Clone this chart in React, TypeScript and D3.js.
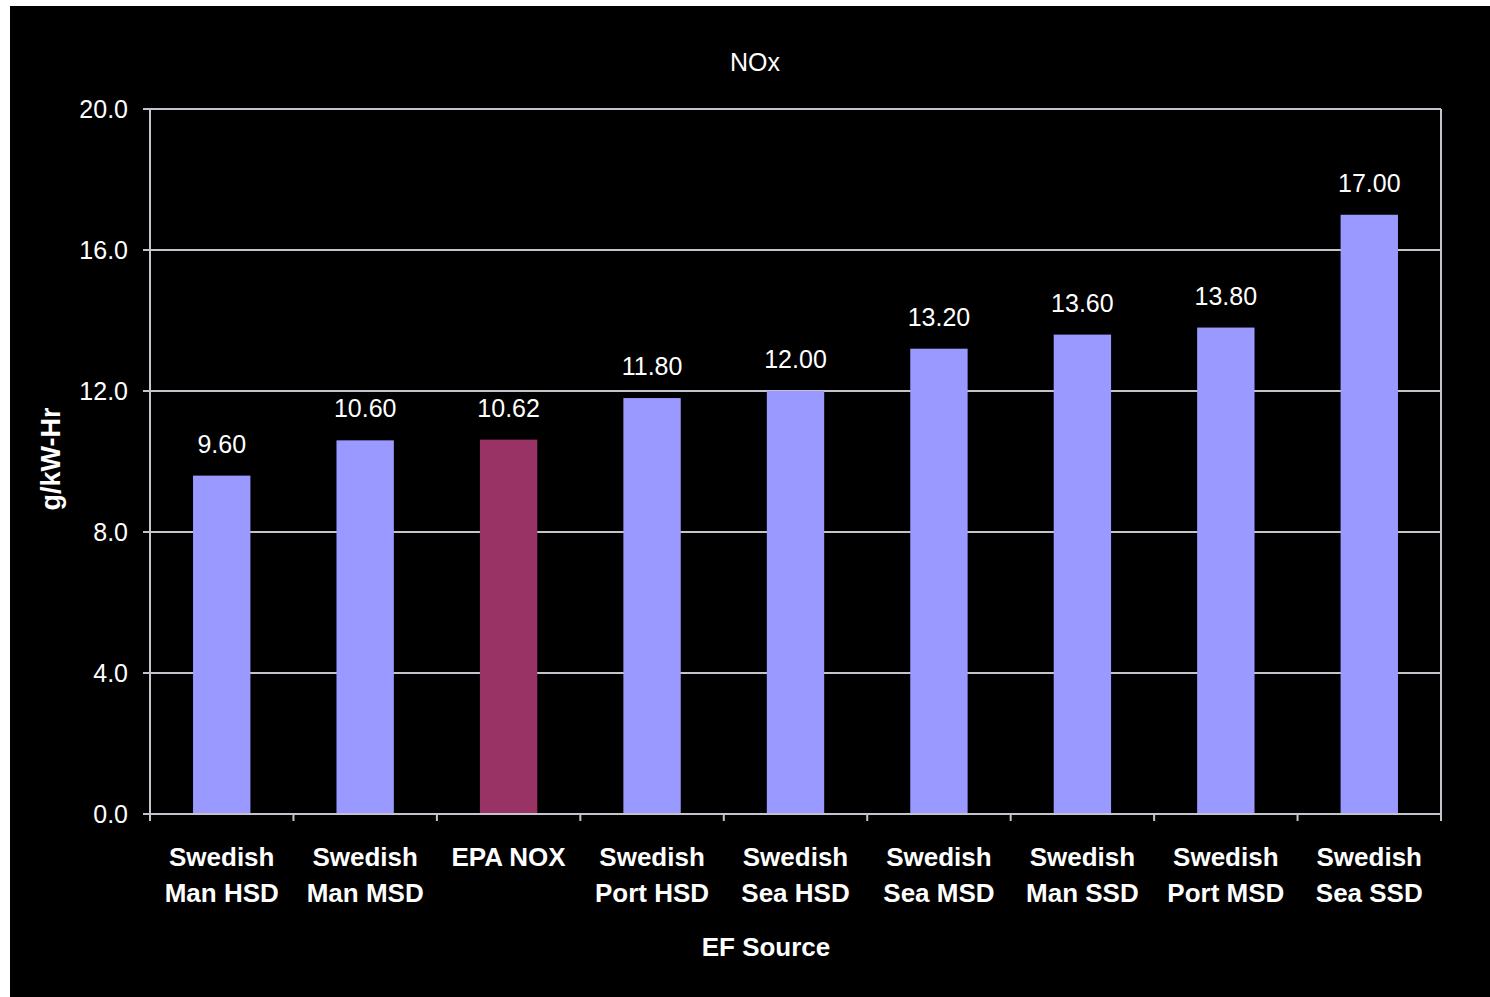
import * as d3 from "d3";

const categories = [
  ["Swedish", "Man HSD"],
  ["Swedish", "Man MSD"],
  ["EPA NOX"],
  ["Swedish", "Port HSD"],
  ["Swedish", "Sea HSD"],
  ["Swedish", "Sea MSD"],
  ["Swedish", "Man SSD"],
  ["Swedish", "Port MSD"],
  ["Swedish", "Sea SSD"],
];
const values = [9.6, 10.6, 10.62, 11.8, 12.0, 13.2, 13.6, 13.8, 17.0];
const highlight = [false, false, true, false, false, false, false, false, false];
const yTicks = [0, 4, 8, 12, 16, 20];

const W = 1490;
const H = 997;
const plot = { left: 150, right: 1441, top: 109, bottom: 814 };
const font = "'Liberation Sans', Arial, sans-serif";
const gridColor = "#c4c4cc";

export default function App() {
  const x = d3
    .scaleBand<number>()
    .domain(d3.range(values.length))
    .range([plot.left, plot.right])
    .paddingInner(0.6)
    .paddingOuter(0.3);
  const step = x.step();
  const y = d3.scaleLinear().domain([0, 20]).range([plot.bottom, plot.top]);

  return (
    <div style={{ position: "absolute", left: 0, top: 0 }}>
      <svg width={W} height={H} style={{ display: "block" }}>
        <rect x={0} y={0} width={W} height={H} fill="#fff" />
        <rect x={10} y={6} width={W - 10} height={H - 6} fill="#000" />

        <text x={755} y={71} fill="#fff" fontFamily={font} fontSize={25} textAnchor="middle">
          NOx
        </text>

        {/* gridlines */}
        {yTicks.map((t) => (
          <g key={t}>
            <line x1={plot.left - 7} x2={plot.right} y1={y(t)} y2={y(t)} stroke={gridColor} strokeWidth={2} />
            <text
              x={128}
              y={y(t) + 9}
              fill="#fff"
              fontFamily={font}
              fontSize={25}
              textAnchor="end"
            >
              {t.toFixed(1)}
            </text>
          </g>
        ))}

        {/* plot frame */}
        <line x1={plot.left} x2={plot.left} y1={plot.top} y2={plot.bottom} stroke={gridColor} strokeWidth={2} />
        <line x1={plot.right} x2={plot.right} y1={plot.top} y2={plot.bottom} stroke={gridColor} strokeWidth={2} />

        {/* category ticks */}
        {d3.range(values.length + 1).map((i) => (
          <line
            key={i}
            x1={plot.left + i * step}
            x2={plot.left + i * step}
            y1={plot.bottom}
            y2={plot.bottom + 7}
            stroke={gridColor}
            strokeWidth={2}
          />
        ))}

        {/* bars */}
        {values.map((v, i) => (
          <g key={i}>
            <rect
              x={x(i)}
              y={y(v)}
              width={x.bandwidth()}
              height={plot.bottom - y(v)}
              fill={highlight[i] ? "#993366" : "#9999ff"}
            />
            <text
              x={(x(i) as number) + x.bandwidth() / 2}
              y={y(v) - 23}
              fill="#fff"
              fontFamily={font}
              fontSize={25}
              textAnchor="middle"
            >
              {v.toFixed(2)}
            </text>
            {categories[i].map((line, j) => (
              <text
                key={j}
                x={(x(i) as number) + x.bandwidth() / 2}
                y={866 + j * 36}
                fill="#fff"
                fontFamily={font}
                fontSize={26}
                fontWeight="bold"
                textAnchor="middle"
              >
                {line}
              </text>
            ))}
          </g>
        ))}
        <line x1={plot.left} x2={plot.right} y1={plot.bottom} y2={plot.bottom} stroke={gridColor} strokeWidth={2} />

        <text x={766} y={956} fill="#fff" fontFamily={font} fontSize={26} fontWeight="bold" textAnchor="middle">
          EF Source
        </text>
        <text
          transform={`translate(60,459) rotate(-90)`}
          fill="#fff"
          fontFamily={font}
          fontSize={27}
          fontWeight="bold"
          textAnchor="middle"
        >
          g/kW-Hr
        </text>
      </svg>
    </div>
  );
}
